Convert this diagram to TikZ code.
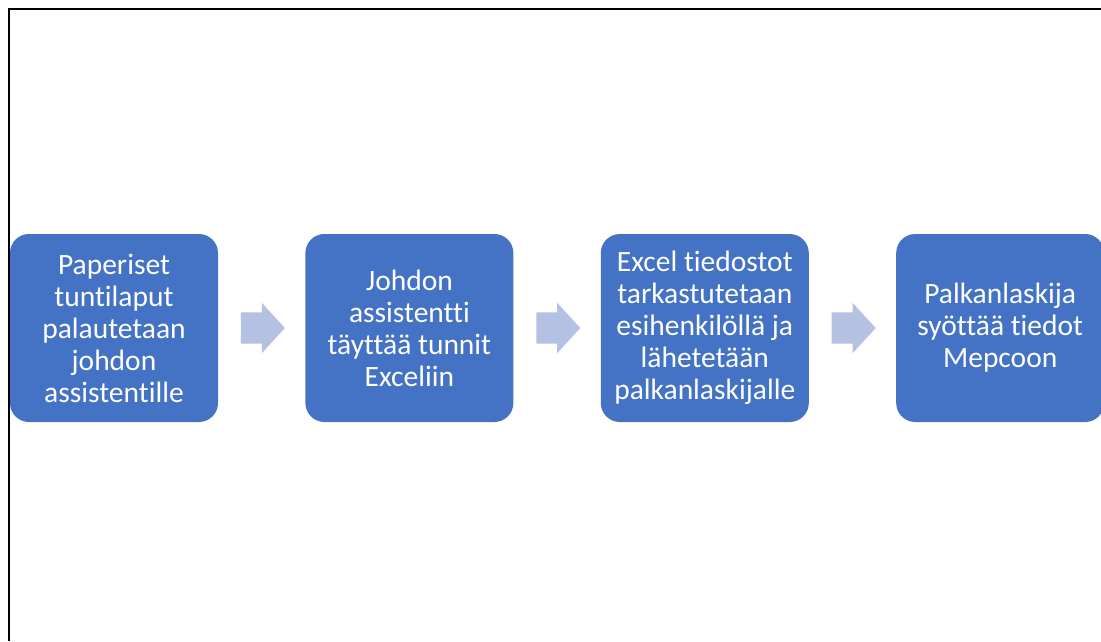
\documentclass[tikz,border=0pt]{standalone}
\usepackage{fontspec}
\setmainfont{Carlito}[Ligatures={NoCommon}]
\usepackage{tikz}
\usetikzlibrary{calc,positioning,shapes.arrows}

\definecolor{boxblue}{RGB}{68,114,196}
\definecolor{arrowblue}{RGB}{180,193,226}

\begin{document}
\begin{tikzpicture}[x=1pt,y=-1pt,
  stepbox/.style = {shape=rectangle, rounded corners=19pt,
    fill=boxblue, text=white, align=center,
    minimum width=208pt, minimum height=188pt, inner sep=0pt,
    font=\fontsize{29.5}{32}\selectfont},
  flowarrow/.style = {single arrow, fill=arrowblue, draw=none,
    minimum height=44pt, inner sep=0pt,
    text height=15.5pt, text depth=15.5pt, text width=0pt,
    single arrow head extend=9.5pt, single arrow tip angle=95,
    xshift=-6pt}]
  \clip (0,0) rectangle (1101,641);
  \useasboundingbox (0,0) rectangle (1101,641);
  % frame
  \draw[line width=2pt] (8.5,641) -- (8.5,9) -- (1101,9);
  % steps
  \node[stepbox] (paper) at (114,328)
    {Paperiset\\tuntilaput\\palautetaan\\johdon\\assistentille};
  \node[stepbox, right=87pt of paper] (excel)
    {Johdon\\assistentti\\täyttää tunnit\\Exceliin};
  \node[stepbox, right=87pt of excel] (check)
    {Excel tiedostot\\tarkastutetaan\\esihenkilöllä ja\\lähetetään\\palkanlaskijalle};
  \node[stepbox, right=87pt of check] (mepco)
    {Palkanlaskija\\syöttää tiedot\\Mepcoon};
  % arrows
  \node[flowarrow] (a1) at ($(paper.east)!0.5!(excel.west)$) {};
  \node[flowarrow] (a2) at ($(excel.east)!0.5!(check.west)$) {};
  \node[flowarrow] (a3) at ($(check.east)!0.5!(mepco.west)$) {};
\end{tikzpicture}
\end{document}
